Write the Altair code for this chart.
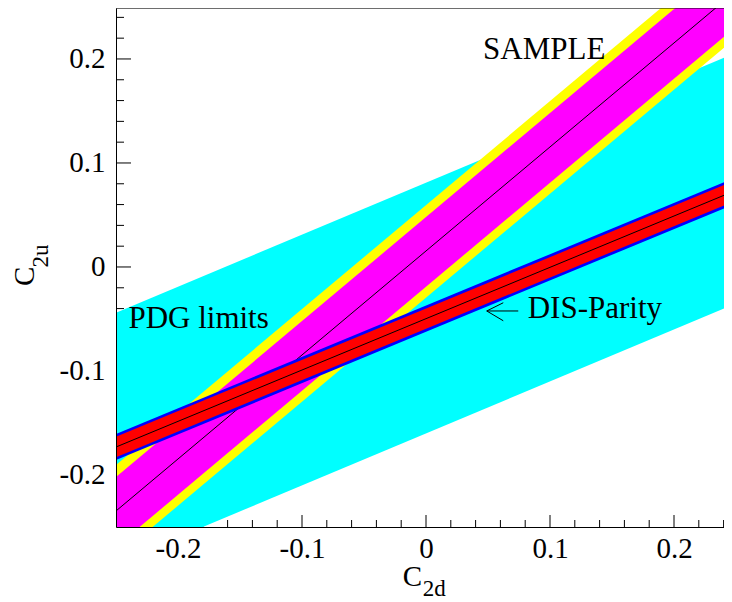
import altair as alt
import pandas as pd

# ---- values ----
X_DOMAIN = [-0.25, 0.24032]
Y_DOMAIN = [-0.25, 0.249]

band_x = [-0.25, 0.25]
# PDG limits (cyan)
pdg_lo = [-0.285, -0.035]
pdg_hi = [-0.044, 0.206]
# SAMPLE band (yellow outer, magenta inner, black central line)
sample_yel_lo = [-0.2795, 0.2205]
sample_yel_hi = [-0.1905, 0.3095]
sample_mag_lo = [-0.269, 0.231]
sample_mag_hi = [-0.202, 0.298]
sample_center = [-0.2346, 0.2654]
# DIS-Parity band (blue outer, red inner, black central line)
dis_blue_lo = [-0.1857, 0.0611]
dis_blue_hi = [-0.1605, 0.0863]
dis_red_lo = [-0.1829, 0.0639]
dis_red_hi = [-0.1633, 0.0835]
dis_center = [-0.1731, 0.0737]

major_ticks = [-0.2, -0.1, 0.0, 0.1, 0.2]
minor_ticks = [-0.24, -0.22, -0.18, -0.16, -0.14, -0.12, -0.08, -0.06, -0.04, -0.02,
               0.02, 0.04, 0.06, 0.08, 0.12, 0.14, 0.16, 0.18, 0.22, 0.24]

labels = ["SAMPLE", "PDG limits", "DIS-Parity"]
label_x = [0.046, -0.240, 0.082]
label_y = [0.200, -0.059, -0.0495]

# arrow pointing to the DIS band: segments (x, y, x2, y2)
arrow_x = [0.049, 0.049, 0.049]
arrow_y = [-0.0423, -0.0423, -0.0423]
arrow_x2 = [0.0744, 0.0623, 0.0623]
arrow_y2 = [-0.0423, -0.0344, -0.0517]

W, H = 608, 519
FONT = "Liberation Serif"

xs = alt.Scale(domain=X_DOMAIN, nice=False, zero=False)
ys = alt.Scale(domain=Y_DOMAIN, nice=False, zero=False)
lab_expr = ("datum.value == 0 ? '0' : (datum.value < 0 ? '-' + format(-datum.value, '.1f')"
            " : format(datum.value, '.1f'))")
x_axis = alt.Axis(values=major_ticks, ticks=False, domain=True, domainColor="black",
                  domainWidth=1, grid=False, labelFont=FONT, labelFontSize=29,
                  labelColor="black", labelPadding=7, labelExpr=lab_expr, title=None,
                  zindex=1, labelFlush=False, labelOverlap=False)
y_axis = alt.Axis(values=major_ticks, ticks=False, domain=True, domainColor="black",
                  domainWidth=1, grid=False, labelFont=FONT, labelFontSize=29,
                  labelColor="black", labelPadding=11, labelExpr=lab_expr, title=None,
                  zindex=1, labelOverlap=False)

X = lambda f: alt.X(f, type="quantitative", scale=xs, axis=x_axis)
Y = lambda f: alt.Y(f, type="quantitative", scale=ys, axis=y_axis)

def band(lo, hi, color):
    df = pd.DataFrame({"x": band_x, "lo": lo, "hi": hi})
    return alt.Chart(df).mark_area(color=color, opacity=1, clip=True).encode(
        x=X("x"), y=Y("lo"), y2="hi")

def cline(vals):
    df = pd.DataFrame({"x": band_x, "y": vals})
    return alt.Chart(df).mark_line(color="black", strokeWidth=1, clip=True).encode(
        x=X("x"), y=Y("y"))

# inward ticks (under the bands)
xt_major = alt.Chart(pd.DataFrame({"t": major_ticks})).mark_rule(color="black", strokeWidth=1).encode(
    x=X("t"), y=alt.value(H), y2=alt.value(H - 12))
xt_minor = alt.Chart(pd.DataFrame({"t": minor_ticks})).mark_rule(color="black", strokeWidth=1).encode(
    x=X("t"), y=alt.value(H), y2=alt.value(H - 7))
yt_major = alt.Chart(pd.DataFrame({"t": major_ticks})).mark_rule(color="black", strokeWidth=1).encode(
    y=Y("t"), x=alt.value(0), x2=alt.value(15))
yt_minor = alt.Chart(pd.DataFrame({"t": minor_ticks})).mark_rule(color="black", strokeWidth=1).encode(
    y=Y("t"), x=alt.value(0), x2=alt.value(8))

top_frame = alt.Chart(pd.DataFrame({"a": [0]})).mark_rule(color="black", strokeWidth=1).encode(
    x=alt.value(0), x2=alt.value(W), y=alt.value(0))

texts = alt.Chart(pd.DataFrame({"x": label_x, "y": label_y, "t": labels})).mark_text(
    font=FONT, fontSize=31, align="left", baseline="alphabetic", color="black").encode(
    x=X("x"), y=Y("y"), text="t")

arrow = alt.Chart(pd.DataFrame({"x": arrow_x, "y": arrow_y, "x2": arrow_x2, "y2": arrow_y2})).mark_rule(
    color="black", strokeWidth=1).encode(x=X("x"), y=Y("y"), x2="x2", y2="y2")

# axis titles: C with subscripts
def title_text(txt, px, py, size, angle=0, baseline="alphabetic"):
    return alt.Chart(pd.DataFrame({"t": [txt]})).mark_text(
        font=FONT, fontSize=size, align="left", baseline=baseline, color="black",
        angle=angle).encode(x=alt.value(px), y=alt.value(py), text="t")

xt_C = title_text("C", 286.7, 578, 29)
xt_sub = title_text("2d", 306.7, 593, 23, baseline="bottom")
yt_C = title_text("C", -82, 278, 29, 270)
yt_sub = title_text("2u", -68.5, 259.5, 23, 270)

chart = alt.layer(
    xt_minor, xt_major, yt_minor, yt_major,
    band(pdg_lo, pdg_hi, "#00FFFF"),
    band(sample_yel_lo, sample_yel_hi, "#FFFF00"),
    band(sample_mag_lo, sample_mag_hi, "#FF00FF"),
    cline(sample_center),
    band(dis_blue_lo, dis_blue_hi, "#0000FF"),
    band(dis_red_lo, dis_red_hi, "#FF0000"),
    cline(dis_center),
    top_frame, texts, arrow,
    xt_C, xt_sub, yt_C, yt_sub,
).properties(
    width=W, height=H,
    autosize=alt.AutoSizeParams(type="none"),
    padding={"left": 108, "top": 0, "right": 0, "bottom": 75},
).configure_view(stroke=None).configure(background="white")

chart.save("out.html", embed_options={"renderer": "svg", "actions": False})
